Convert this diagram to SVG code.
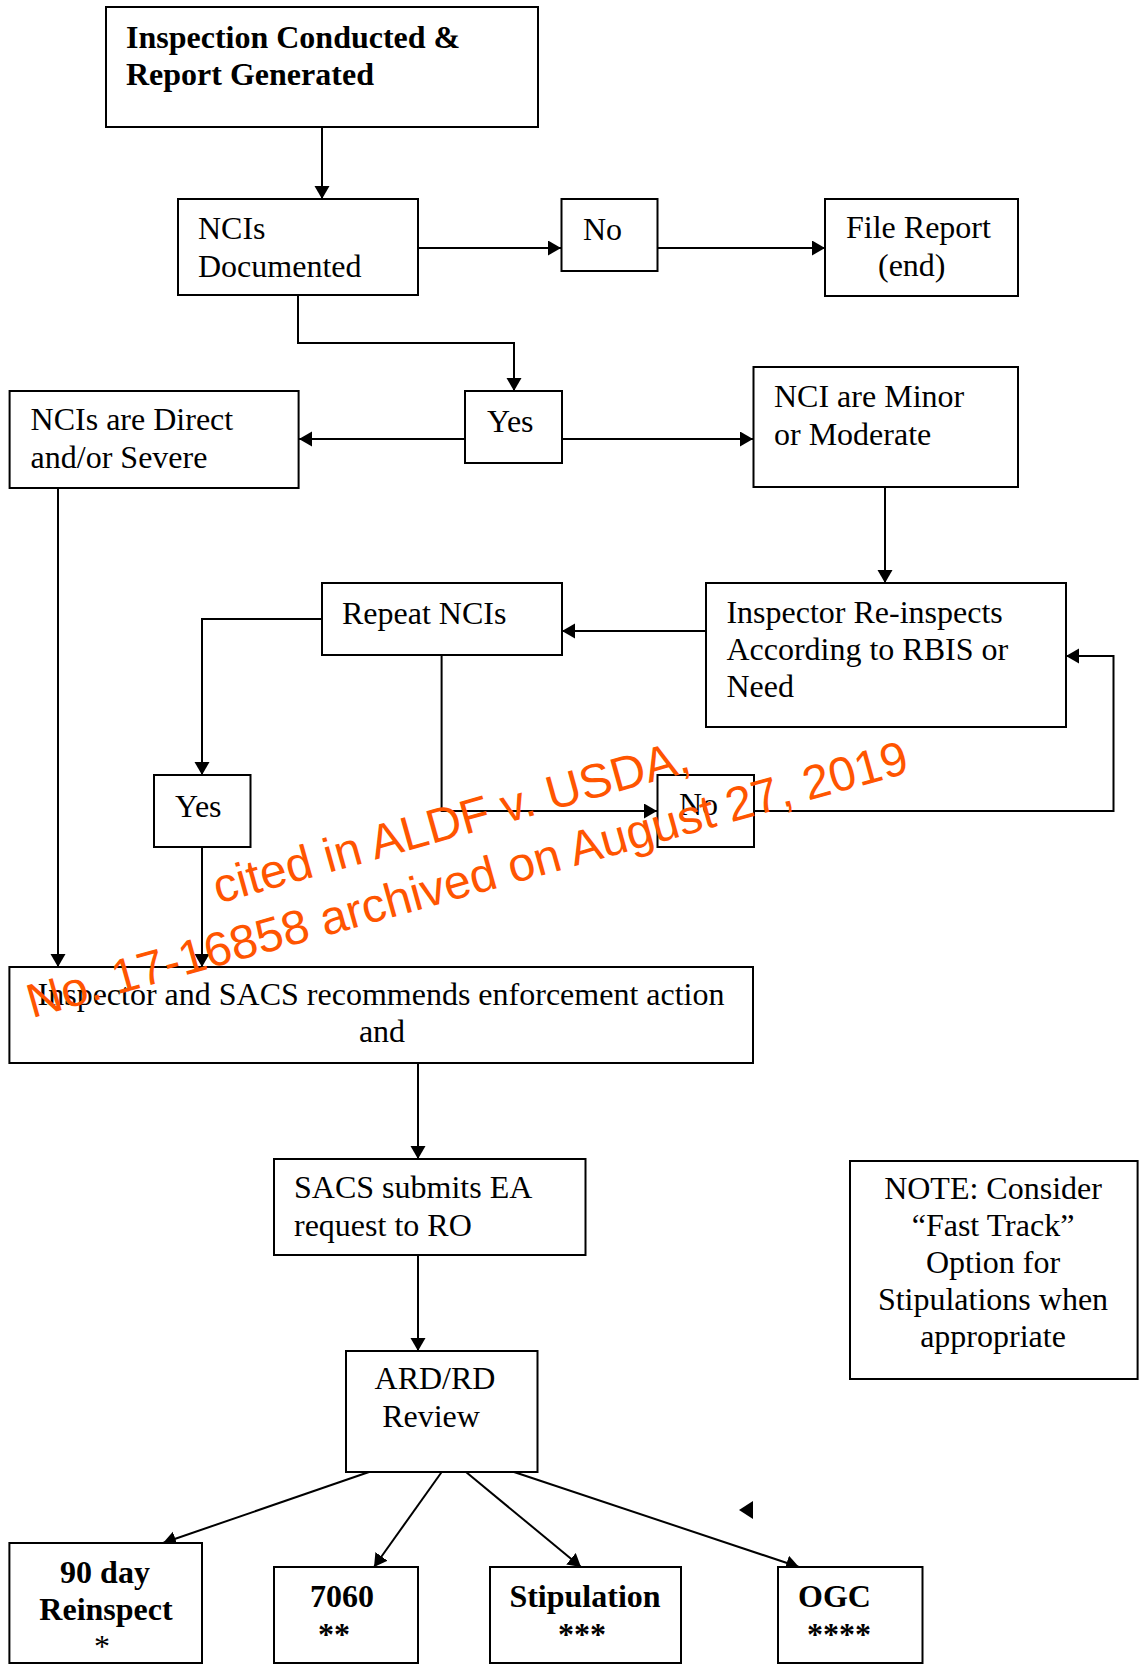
<svg xmlns="http://www.w3.org/2000/svg" width="1139" height="1665" viewBox="0 0 1139 1665">
<style>
.box{fill:#fff;stroke:#000;stroke-width:2}
.t{font-family:"Liberation Serif","Times New Roman",serif;font-size:32px;fill:#000}
.b{font-weight:bold}
.c{text-anchor:middle}
.ln{fill:none;stroke:#000;stroke-width:2}
.wm{font-family:"Liberation Sans",Arial,sans-serif;font-size:48px;fill:#ff5500;text-anchor:middle}
</style>
<defs>
<marker id="ah" markerUnits="userSpaceOnUse" markerWidth="14" markerHeight="16" refX="13" refY="7.5" orient="auto" viewBox="0 0 14 16">
<path d="M0,0 L13,7.5 L0,15 z" fill="#000"/>
</marker>
</defs>
<rect width="1139" height="1665" fill="#fff"/>
<g id="connectors" class="ln" marker-end="url(#ah)">
<path d="M322,127 V199"/>
<path d="M418,248 H561"/>
<path d="M658,248 H825"/>
<path d="M298,295 V343 H514 V391"/>
<path d="M465,439 H299"/>
<path d="M562,439 H753"/>
<path d="M885,487 V583"/>
<path d="M706,631 H562"/>
<path d="M322,619 H202 V775"/>
<path d="M441.6,655 V811 H657"/>
<path d="M754,811 H1113.5 V656 H1066"/>
<path d="M202,847 V967"/>
<path d="M58,488 V967"/>
<path d="M418,1063 V1159"/>
<path d="M418,1255 V1351"/>
<path d="M369,1472 L163,1543"/>
<path d="M441.7,1472 L374,1567"/>
<path d="M466,1472 L581,1567"/>
<path d="M514,1472 L799,1567"/>
</g>
<polygon points="739,1510 753,1501 753,1519" fill="#000"/>
<g id="n_inspection">
<rect class="box" x="106" y="7" width="432" height="120"/>
<text class="t b" x="126" y="48">Inspection Conducted &amp;</text>
<text class="t b" x="126" y="85">Report Generated</text>
</g>
<g id="n_ncis">
<rect class="box" x="178" y="199" width="240" height="96"/>
<text class="t" x="198" y="239">NCIs</text>
<text class="t" x="198" y="277">Documented</text>
</g>
<g id="n_no1">
<rect class="box" x="561.5" y="199" width="96" height="72"/>
<text class="t" x="583" y="240">No</text>
</g>
<g id="n_file">
<rect class="box" x="825" y="199" width="193" height="97"/>
<text class="t" x="846" y="238">File Report</text>
<text class="t" x="878" y="276">(end)</text>
</g>
<g id="n_yes1">
<rect class="box" x="465" y="391" width="97" height="72"/>
<text class="t" x="487" y="432">Yes</text>
</g>
<g id="n_direct">
<rect class="box" x="9.6" y="391" width="289" height="97"/>
<text class="t" x="30.6" y="430">NCIs are Direct</text>
<text class="t" x="30.6" y="468">and/or Severe</text>
</g>
<g id="n_minor">
<rect class="box" x="753.5" y="367" width="264.5" height="120"/>
<text class="t" x="774" y="407">NCI are Minor</text>
<text class="t" x="774" y="445">or Moderate</text>
</g>
<g id="n_repeat">
<rect class="box" x="322" y="583" width="240" height="72"/>
<text class="t" x="342" y="624">Repeat NCIs</text>
</g>
<g id="n_reinspect">
<rect class="box" x="706" y="583" width="360" height="144"/>
<text class="t" x="726.4" y="623">Inspector Re-inspects</text>
<text class="t" x="726.4" y="660">According to RBIS or</text>
<text class="t" x="726.4" y="697">Need</text>
</g>
<g id="n_yes2">
<rect class="box" x="154" y="775" width="96.5" height="72"/>
<text class="t" x="175" y="817">Yes</text>
</g>
<g id="n_no2">
<rect class="box" x="657.5" y="775" width="96.5" height="72"/>
<text class="t" x="679" y="815">No</text>
</g>
<g id="n_recommend">
<rect class="box" x="9.4" y="967" width="743.6" height="96"/>
<text class="t c" x="381" y="1005">Inspector and SACS recommends enforcement action</text>
<text class="t c" x="382" y="1042">and</text>
</g>
<g id="n_sacs">
<rect class="box" x="274" y="1159" width="311.5" height="96"/>
<text class="t" x="294" y="1198">SACS submits EA</text>
<text class="t" x="294" y="1236">request to RO</text>
</g>
<g id="n_ard">
<rect class="box" x="346" y="1351" width="191.5" height="121"/>
<text class="t c" x="435" y="1389">ARD/RD</text>
<text class="t c" x="431" y="1427">Review</text>
</g>
<g id="n_note">
<rect class="box" x="850" y="1161" width="287.6" height="218"/>
<text class="t c" x="993" y="1199">NOTE: Consider</text>
<text class="t c" x="993" y="1236">“Fast Track”</text>
<text class="t c" x="993" y="1273">Option for</text>
<text class="t c" x="993" y="1310">Stipulations when</text>
<text class="t c" x="993" y="1347">appropriate</text>
</g>
<g id="n_90day">
<rect class="box" x="9.4" y="1543" width="192.6" height="120"/>
<text class="t b c" x="105" y="1583">90 day</text>
<text class="t b c" x="106" y="1620">Reinspect</text>
<text class="t c" x="102" y="1657">*</text>
</g>
<g id="n_7060">
<rect class="box" x="274" y="1567" width="144" height="96"/>
<text class="t b" x="310" y="1607">7060</text>
<text class="t b" x="318" y="1645">**</text>
</g>
<g id="n_stip">
<rect class="box" x="490" y="1567" width="191" height="96"/>
<text class="t b c" x="585" y="1607">Stipulation</text>
<text class="t b c" x="582" y="1645">***</text>
</g>
<g id="n_ogc">
<rect class="box" x="778" y="1567" width="144.5" height="96"/>
<text class="t b" x="798" y="1607">OGC</text>
<text class="t b" x="807" y="1645">****</text>
</g>
<g id="watermark" transform="translate(463.4,866.2) rotate(-15.65)">
<text class="wm" x="0" y="-30">cited in ALDF v. USDA,</text>
<text class="wm" x="0" y="30">No. 17-16858 archived on August 27, 2019</text>
</g>
</svg>
